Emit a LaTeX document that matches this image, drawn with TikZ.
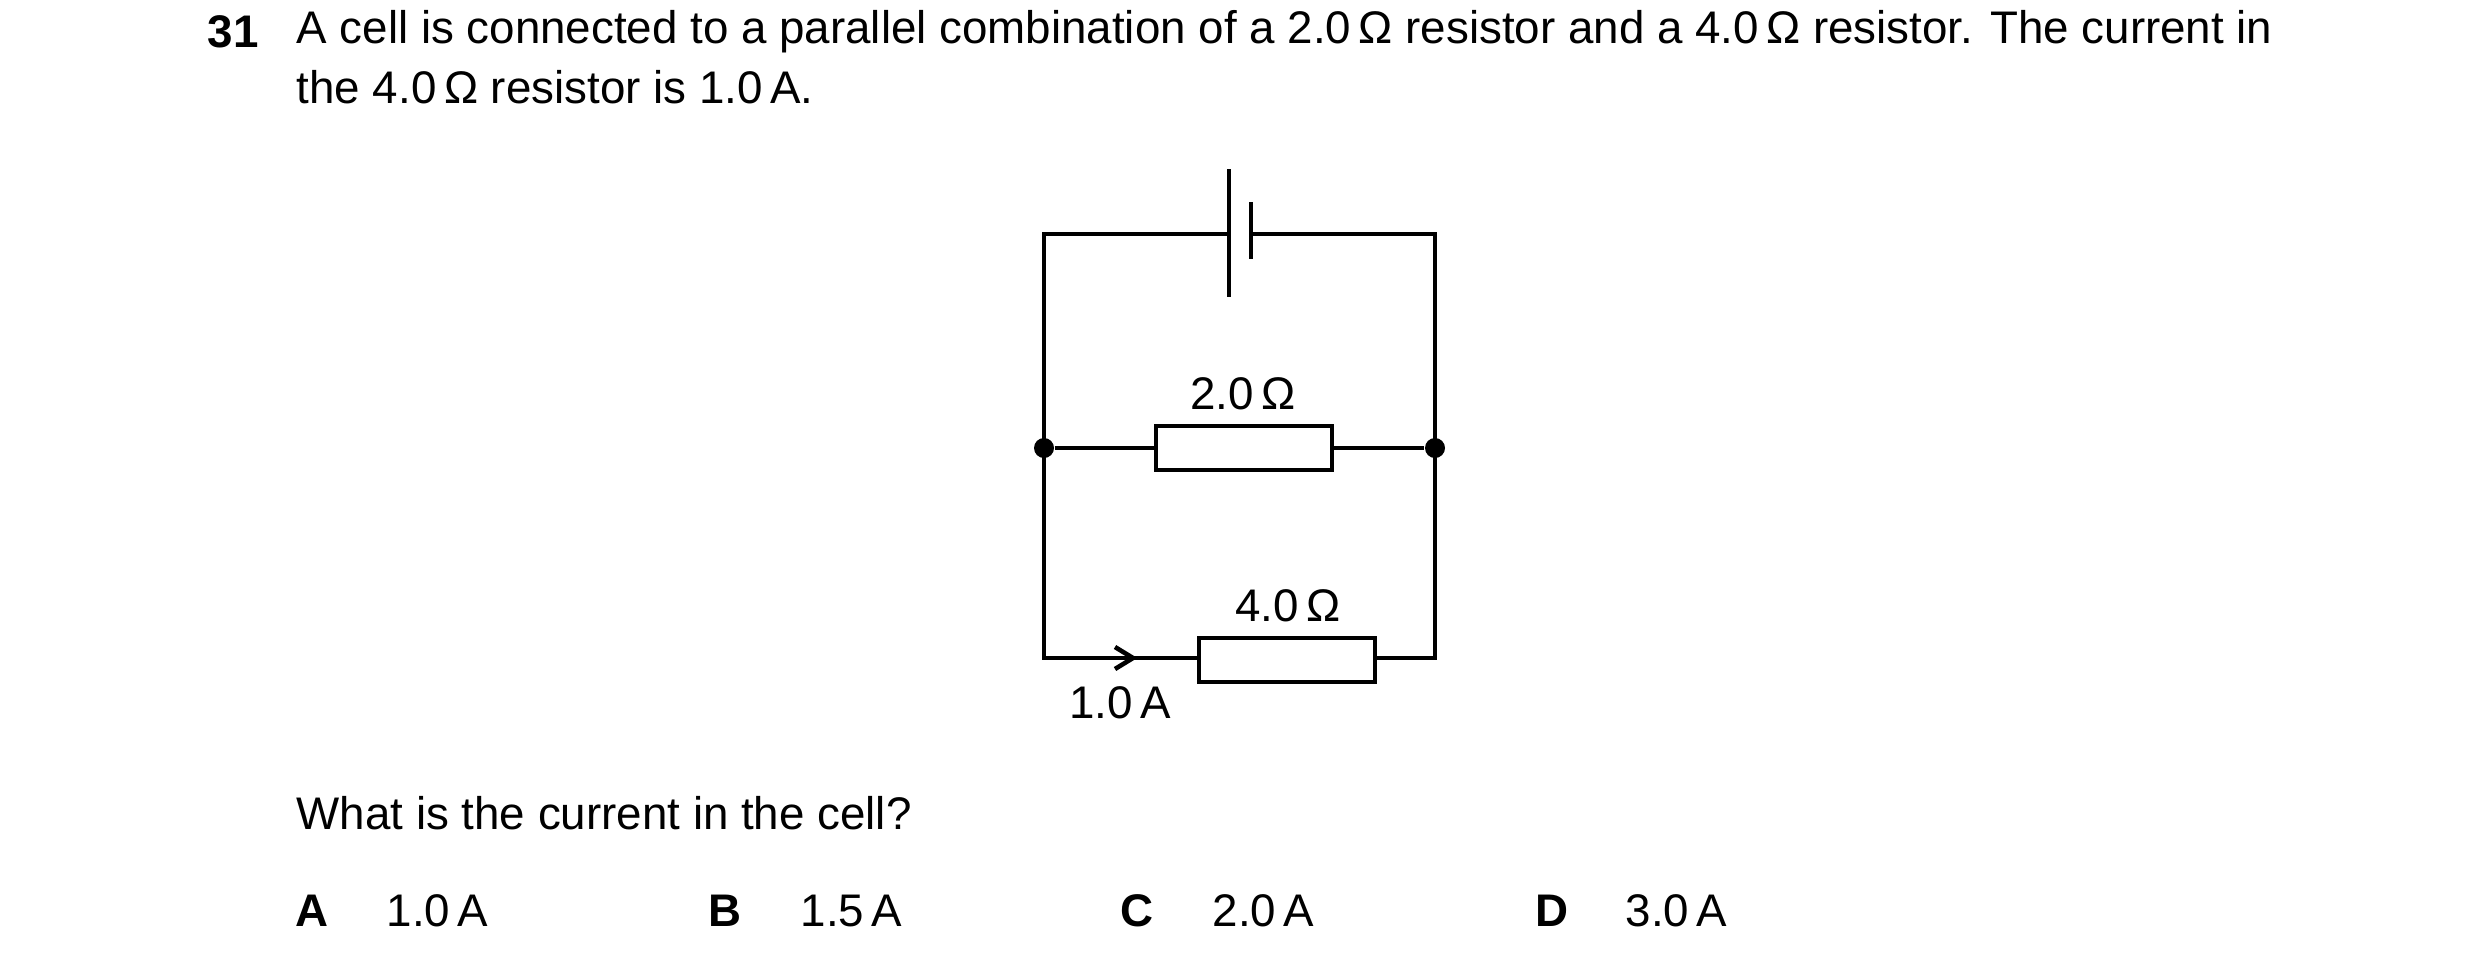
\documentclass[tikz,border=0pt]{standalone}
\usepackage{fontspec}
\setmainfont{Liberation Sans}
\begin{document}
\begin{tikzpicture}[x=0.01cm,y=-0.01cm,
  txt/.style={inner sep=0,font=\fontsize{13}{16}\selectfont},
  bt/.style={inner sep=0,font=\fontsize{13}{16}\selectfont\bfseries},
  w/.style={line width=1.3pt},
  res/.style={draw,line width=1.3pt,minimum width=1.76cm,minimum height=0.44cm,inner sep=0},
  dot/.style={circle,fill,inner sep=0,minimum size=0.2cm}]
\useasboundingbox (0,0) rectangle (2480,966);
\node[bt,anchor=west] (n) at (207,32) {31};
\node[txt,anchor=west] (l1) at (296,32) {A cell is connected to a parallel combination of a 2.0\,Ω resistor and a 4.0\,Ω resistor. The current in};
\node[txt,anchor=west] (l2) at (296,87) {the 4.0\,Ω resistor is 1.0\,A.};
% circuit
\coordinate (tl) at (1044,234); \coordinate (tr) at (1435,234);
\coordinate (bl) at (1044,658); \coordinate (br) at (1435,658);
\node[dot] (jl) at (1044,448) {}; \node[dot] (jr) at (1435,448) {};
\coordinate (p1) at (1229,234); \coordinate (p2) at (1251,234);
\draw[w] (p1) -- (tl) -- (bl) -- (1199,658);
\draw[w] (p2) -- (tr) -- (br) -- (1375,658);
\draw[w] (1229,169) -- (1229,297);
\draw[w] (1251,202) -- (1251,259);
\node[res] (r1) at (1244,448) {};
\node[res] (r2) at (1287,660) {};
\draw[w] (jl) -- (r1.west); \draw[w] (r1.east) -- (jr);
\draw[w] (1115,647) -- (1133,658) -- (1115,669);
\node[txt] (lr1) at (1243,394) {2.0\,Ω};
\node[txt] (lr2) at (1288,606) {4.0\,Ω};
\node[txt] (la) at (1120,703) {1.0\,A};
\node[txt,anchor=west] (q) at (296,813) {What is the current in the cell?};
\node[bt] (oa) at (312,911) {A};
\node[txt,anchor=west] (va) at (386,911) {1.0\,A};
\node[bt] (ob) at (725,911) {B};
\node[txt,anchor=west] (vb) at (800,911) {1.5\,A};
\node[bt] (oc) at (1137,911) {C};
\node[txt,anchor=west] (vc) at (1212,911) {2.0\,A};
\node[bt] (od) at (1552,911) {D};
\node[txt,anchor=west] (vd) at (1625,911) {3.0\,A};
\end{tikzpicture}
\end{document}
